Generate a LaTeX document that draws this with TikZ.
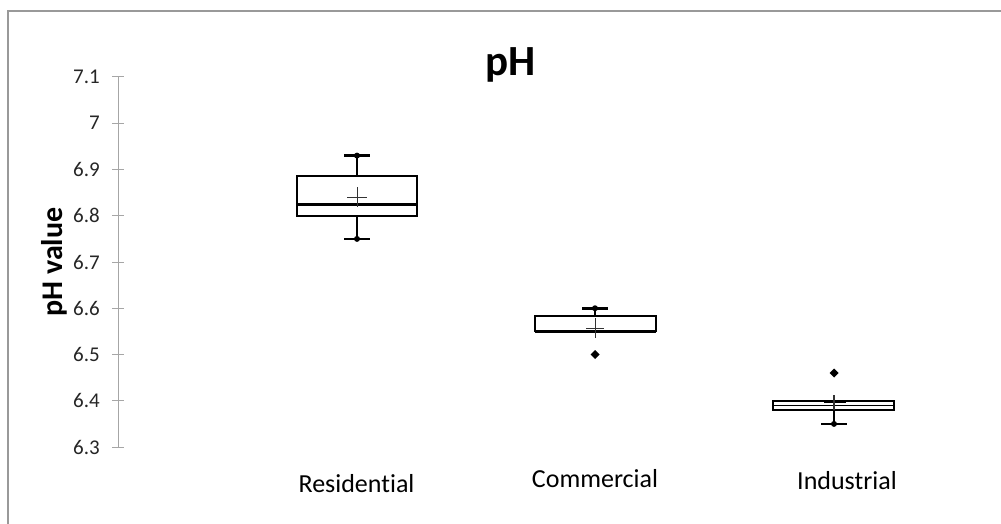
\documentclass[tikz,border=0pt]{standalone}
\usepackage{fontspec}
\setmainfont{Carlito}[Ligatures=NoCommon]
\usepackage{tikz}
\usetikzlibrary{calc}

\tikzset{
  frameline/.style={draw=gray!80, line width=1.2pt},
  axisline/.style={draw=gray!70, line width=1pt},
  ticklabel/.style={anchor=east, font=\fontsize{21}{24}\selectfont, text=black!85, inner sep=0pt},
  catlabel/.style={anchor=base, font=\fontsize{26}{30}\selectfont, inner sep=0pt},
  boxline/.style={line width=2pt},
  medline/.style={line width=3pt},
  whisker/.style={line width=2.5pt},
  meanmark/.style={line width=0.9pt, draw=black!80}
}

\begin{document}
\begin{tikzpicture}[x=1pt, y=-1pt]
  \useasboundingbox (0, 0) rectangle (1001, 524);
  % frame
  \draw[frameline] (8, 524) -- (8, 11) -- (1001, 11);
  % title and axis title
  \node[anchor=base, font=\bfseries\fontsize{43}{48}\selectfont, inner sep=0pt] (title) at (511, 76) {pH};
  \node[rotate=90, font=\bfseries\fontsize{30}{34}\selectfont, inner sep=0pt] (ytitle) at (54, 262) {pH value};
  % y axis
  \draw[axisline] (118, 77) -- (118, 447);
  \foreach \v/\t [count=\i from 0] in {7.1/7.1, 7.0/7, 6.9/6.9, 6.8/6.8, 6.7/6.7, 6.6/6.6, 6.5/6.5, 6.4/6.4, 6.3/6.3} {
    \draw[axisline] (112, 77+\i*46.25) -- (124, 77+\i*46.25);
    \node[ticklabel] (tick\i) at (100, 77+\i*46.25) {\t};
  }
  % Residential
  \draw[whisker] (357, 175.5) -- (357, 155.6);
  \draw[whisker] (344, 155.6) -- (370, 155.6);
  \fill (357, 155.6) circle (3);
  \draw[whisker] (357, 215.75) -- (357, 238.9);
  \draw[whisker] (344, 238.9) -- (370, 238.9);
  \fill (357, 238.9) circle (3);
  \draw[boxline] (297, 175.5) rectangle (417, 215.75);
  \draw[medline] (297, 204.2) -- (417, 204.2);
  \draw[meanmark] (347, 197.3) -- (367, 197.3);
  \draw[meanmark] (357, 187.3) -- (357, 207.3);
  % Commercial
  \draw[whisker] (595, 316.1) -- (595, 308.25);
  \draw[whisker] (582, 308.25) -- (608, 308.25);
  \fill (595, 308.25) circle (3);
  \draw[boxline] (535, 316.1) rectangle (656, 331.4);
  \draw[medline] (535, 331.4) -- (656, 331.4);
  \draw[meanmark] (586, 328.1) -- (604, 328.1);
  \draw[meanmark] (595, 318.1) -- (595, 338.1);
  \fill (595, 350) -- (599.5, 354.5) -- (595, 359) -- (590.5, 354.5) -- cycle;
  % Industrial
  \draw[whisker] (834, 410) -- (834, 423.9);
  \draw[whisker] (821, 423.9) -- (847, 423.9);
  \fill (834, 423.9) circle (3);
  \draw[boxline] (773, 400.75) rectangle (894, 410);
  \draw[line width=1.5pt] (773, 405.4) -- (894, 405.4);
  \draw[line width=2.5pt] (824, 402.1) -- (846, 402.1);
  \draw[meanmark, line width=1.2pt] (834, 395) -- (834, 410);
  \fill (834, 368.5) -- (838.5, 373) -- (834, 377.5) -- (829.5, 373) -- cycle;
  % categories
  \node[catlabel] (resid) at (356.5, 492) {Residential};
  \node[catlabel] (comm) at (595, 487) {Commercial};
  \node[catlabel] (indus) at (847, 489) {Industrial};
\end{tikzpicture}
\end{document}
